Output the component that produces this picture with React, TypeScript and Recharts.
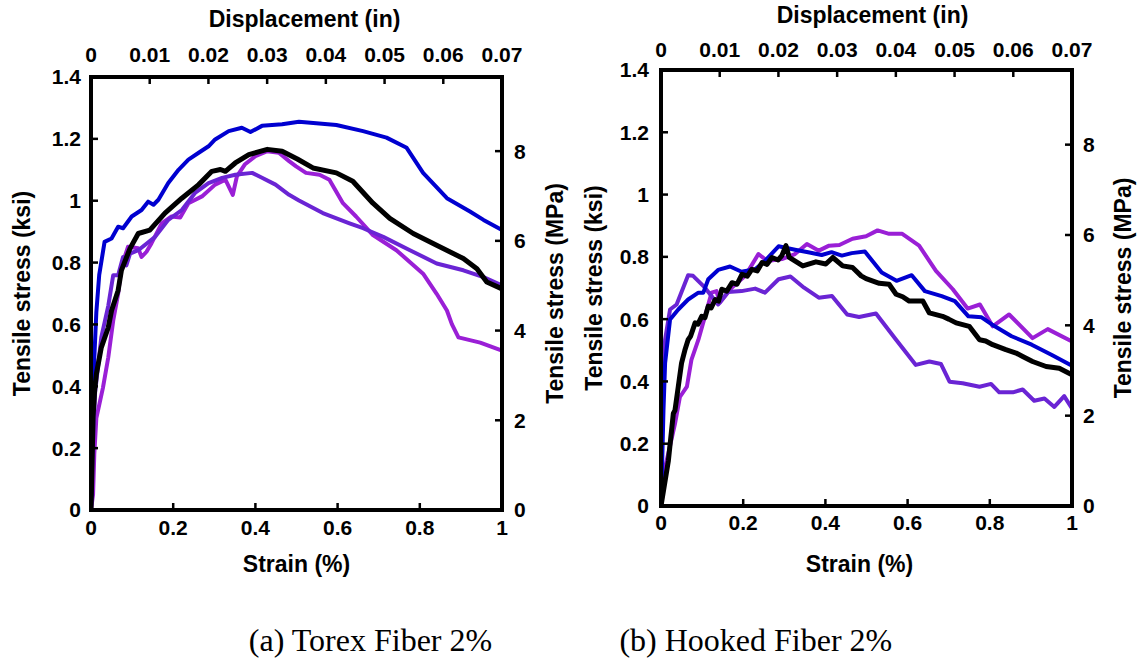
import { LineChart, Line, XAxis, YAxis } from 'recharts'

// tick values
const strainTicks = [0, 0.2, 0.4, 0.6, 0.8, 1]
const dispTicks = [0, 0.01, 0.02, 0.03, 0.04, 0.05, 0.06, 0.07]
const ksiTicks = [0, 0.2, 0.4, 0.6, 0.8, 1, 1.2, 1.4]
const mpaTicks = [0, 2, 4, 6, 8]
const MPA_MAX = 1.4 * 6.89476

// (a) Torex fiber 2% : [strain %, stress ksi]
const torexBlue: [number, number][] = [
  [0, 0], [0.003, 0.2], [0.008, 0.49], [0.013, 0.64], [0.02, 0.76], [0.033, 0.867], [0.05, 0.878],
  [0.066, 0.916], [0.078, 0.911], [0.099, 0.949], [0.123, 0.97], [0.139, 0.997], [0.152, 0.987],
  [0.164, 1.003], [0.188, 1.057], [0.213, 1.1], [0.237, 1.133], [0.262, 1.155], [0.286, 1.176],
  [0.302, 1.198], [0.335, 1.225], [0.367, 1.236], [0.388, 1.222], [0.416, 1.242], [0.465, 1.247],
  [0.506, 1.255], [0.597, 1.245], [0.662, 1.225], [0.719, 1.204], [0.768, 1.171], [0.808, 1.09],
  [0.866, 1.008], [0.922, 0.965], [0.955, 0.938], [1.0, 0.905],
]
const torexBlack: [number, number][] = [
  [0, 0], [0.002, 0.12], [0.005, 0.3], [0.009, 0.39], [0.013, 0.439], [0.025, 0.525], [0.042, 0.59],
  [0.05, 0.645], [0.066, 0.71], [0.074, 0.775], [0.095, 0.846], [0.115, 0.894], [0.143, 0.905],
  [0.18, 0.96], [0.221, 1.008], [0.262, 1.052], [0.294, 1.095], [0.315, 1.101], [0.327, 1.095],
  [0.351, 1.122], [0.384, 1.149], [0.429, 1.166], [0.465, 1.16], [0.502, 1.135], [0.54, 1.106],
  [0.597, 1.09], [0.637, 1.063], [0.686, 0.992], [0.727, 0.943], [0.784, 0.894], [0.841, 0.856],
  [0.906, 0.813], [0.939, 0.78], [0.963, 0.737], [1.0, 0.715],
]
const torexMagenta: [number, number][] = [
  [0, 0], [0.005, 0.05], [0.008, 0.18], [0.013, 0.297], [0.029, 0.395], [0.042, 0.493], [0.054, 0.612],
  [0.066, 0.699], [0.074, 0.786], [0.09, 0.851], [0.115, 0.846], [0.123, 0.818], [0.135, 0.835],
  [0.147, 0.862], [0.172, 0.927], [0.196, 0.949], [0.217, 0.946], [0.237, 0.992], [0.27, 1.014],
  [0.302, 1.052], [0.327, 1.068], [0.345, 1.019], [0.355, 1.079], [0.374, 1.117], [0.4, 1.144],
  [0.429, 1.16], [0.457, 1.155], [0.482, 1.128], [0.499, 1.111], [0.523, 1.09], [0.556, 1.084],
  [0.58, 1.068], [0.613, 0.992], [0.645, 0.949], [0.686, 0.889], [0.743, 0.84], [0.808, 0.764],
  [0.841, 0.699], [0.866, 0.645], [0.878, 0.601], [0.894, 0.558], [0.947, 0.541], [1.0, 0.515],
]
const torexViolet: [number, number][] = [
  [0, 0], [0.004, 0.2], [0.01, 0.38], [0.025, 0.558], [0.042, 0.66], [0.054, 0.759], [0.066, 0.759],
  [0.078, 0.818], [0.086, 0.791], [0.095, 0.829], [0.115, 0.84], [0.156, 0.883], [0.188, 0.938],
  [0.221, 0.97], [0.253, 1.025], [0.286, 1.057], [0.319, 1.074], [0.351, 1.084], [0.392, 1.09],
  [0.416, 1.074], [0.449, 1.052], [0.482, 1.019], [0.506, 1.001], [0.564, 0.96], [0.629, 0.927],
  [0.662, 0.911], [0.711, 0.883], [0.776, 0.84], [0.841, 0.797], [0.906, 0.775], [0.955, 0.753],
  [1.0, 0.726],
]

// (b) Hooked fiber 2%
const hookedBlue: [number, number][] = [
  [0, 0], [0.003, 0.15], [0.006, 0.307], [0.01, 0.459], [0.022, 0.599], [0.042, 0.631], [0.066, 0.663],
  [0.091, 0.685], [0.103, 0.685], [0.115, 0.728], [0.139, 0.758], [0.168, 0.769], [0.196, 0.752],
  [0.229, 0.76], [0.253, 0.787], [0.286, 0.834], [0.326, 0.823], [0.358, 0.815], [0.391, 0.806],
  [0.415, 0.815], [0.44, 0.804], [0.464, 0.812], [0.496, 0.817], [0.537, 0.75], [0.573, 0.723],
  [0.61, 0.741], [0.642, 0.69], [0.683, 0.674], [0.715, 0.658], [0.748, 0.609], [0.78, 0.606],
  [0.805, 0.583], [0.853, 0.545], [0.902, 0.518], [0.951, 0.485], [1.0, 0.45],
]
const hookedBlack: [number, number][] = [
  [0, 0], [0.018, 0.146], [0.03, 0.297], [0.034, 0.307], [0.042, 0.383], [0.05, 0.459], [0.058, 0.5],
  [0.066, 0.534], [0.072, 0.545], [0.083, 0.588], [0.09, 0.584], [0.099, 0.609], [0.107, 0.605],
  [0.115, 0.642], [0.122, 0.636], [0.132, 0.663], [0.14, 0.658], [0.148, 0.696], [0.16, 0.69],
  [0.173, 0.717], [0.185, 0.712], [0.197, 0.744], [0.21, 0.738], [0.221, 0.76], [0.234, 0.755],
  [0.246, 0.782], [0.258, 0.776], [0.27, 0.798], [0.285, 0.79], [0.294, 0.804], [0.304, 0.836],
  [0.312, 0.798], [0.345, 0.771], [0.377, 0.784], [0.401, 0.777], [0.418, 0.798], [0.442, 0.771],
  [0.466, 0.766], [0.487, 0.739], [0.499, 0.73], [0.531, 0.715], [0.555, 0.712], [0.572, 0.68],
  [0.588, 0.672], [0.604, 0.658], [0.637, 0.658], [0.653, 0.62], [0.685, 0.609], [0.7, 0.6],
  [0.718, 0.588], [0.75, 0.577], [0.775, 0.534], [0.79, 0.53], [0.807, 0.518], [0.839, 0.502],
  [0.864, 0.491], [0.88, 0.48], [0.904, 0.464], [0.937, 0.448], [0.969, 0.442], [1.0, 0.421],
]
const hookedMagenta: [number, number][] = [
  [0, 0], [0.012, 0.135], [0.034, 0.264], [0.046, 0.35], [0.063, 0.383], [0.074, 0.469], [0.091, 0.534],
  [0.107, 0.609], [0.123, 0.685], [0.135, 0.69], [0.143, 0.653], [0.172, 0.701], [0.205, 0.739],
  [0.237, 0.809], [0.258, 0.787], [0.294, 0.793], [0.326, 0.809], [0.355, 0.841], [0.384, 0.82],
  [0.409, 0.836], [0.434, 0.838], [0.466, 0.858], [0.499, 0.866], [0.527, 0.885], [0.555, 0.874],
  [0.587, 0.874], [0.628, 0.836], [0.669, 0.755], [0.71, 0.696], [0.746, 0.634], [0.776, 0.647],
  [0.807, 0.577], [0.847, 0.615], [0.904, 0.539], [0.941, 0.568], [1.0, 0.528],
]
const hookedViolet: [number, number][] = [
  [0, 0], [0.003, 0.3], [0.006, 0.45], [0.01, 0.534], [0.022, 0.631], [0.038, 0.647], [0.066, 0.741],
  [0.078, 0.739], [0.107, 0.701], [0.139, 0.647], [0.163, 0.687], [0.196, 0.69], [0.229, 0.698],
  [0.253, 0.685], [0.286, 0.728], [0.315, 0.737], [0.348, 0.701], [0.384, 0.669], [0.416, 0.674],
  [0.453, 0.615], [0.482, 0.607], [0.523, 0.618], [0.572, 0.534], [0.62, 0.453], [0.653, 0.464],
  [0.681, 0.456], [0.702, 0.399], [0.734, 0.394], [0.775, 0.383], [0.803, 0.392], [0.823, 0.365],
  [0.856, 0.365], [0.88, 0.374], [0.908, 0.338], [0.933, 0.345], [0.957, 0.318], [0.981, 0.353],
  [1.0, 0.313],
]

const BLUE = '#0000d0'
const MAGENTA = '#9a1fd6'
const VIOLET = '#6a24d4'
const BLACK = '#000000'

const SANS = '"Liberation Sans", Arial, Helvetica, sans-serif'
const SERIF = '"Liberation Serif", "Times New Roman", serif'

const tickStyle = { fill: '#000', fontSize: 21, fontWeight: 700, fontFamily: SANS }
const axisLineStyle = { stroke: '#000', strokeWidth: 4, strokeLinecap: 'square' as const }
const tickLineStyle = { stroke: '#000', strokeWidth: 2.5 }

const fmt = (v: number) => String(parseFloat(v.toFixed(3)))
const toPoints = (arr: [number, number][]) => arr.map(([x, y]) => ({ x, y }))

const titleStyle = { fill: '#000', fontSize: 23, fontWeight: 700, fontFamily: SANS }

const xTitle = (text: string, dx: number, dy: number) => (props: any) => {
  const vb = props.viewBox
  return (
    <text x={vb.x + vb.width / 2 + dx} y={vb.y + dy} textAnchor="middle" style={titleStyle}>
      {text}
    </text>
  )
}

const yTitle = (text: string, dx: number) => (props: any) => {
  const vb = props.viewBox
  const cx = vb.x + dx
  const cy = vb.y + vb.height / 2
  return (
    <text
      x={cx}
      y={cy}
      transform={`rotate(-90 ${cx} ${cy})`}
      textAnchor="middle"
      dominantBaseline="central"
      style={titleStyle}
    >
      {text}
    </text>
  )
}

interface Series {
  name: string
  color: string
  width: number
  points: [number, number][]
}

interface PanelProps {
  series: Series[]
  left: number
  topH: number
  bottomH: number
  leftW: number
  rightW: number
  topMargin: number
  bottomMargin: number
  leftMargin: number
  rightMargin: number
  topTitleY: number
  topTitleDx: number
  bottomTitleY: number
  bottomTitleDx: number
  leftTitleX: number
  rightTitleX: number
}

function Panel(p: PanelProps) {
  return (
    <div style={{ position: 'absolute', left: p.left, top: 0 }}>
      <LineChart width={571} height={600} margin={{ top: 0, right: 0, bottom: 0, left: 0 }}>
        <XAxis
          dataKey="x"
          type="number"
          domain={[0, 1]}
          ticks={strainTicks}
          interval={0}
          allowDataOverflow
          height={p.bottomH}
          tickFormatter={fmt}
          tick={tickStyle}
          tickSize={-7}
          tickMargin={p.bottomMargin}
          axisLine={axisLineStyle}
          tickLine={tickLineStyle}
          label={{ content: xTitle('Strain (%)', p.bottomTitleDx, p.bottomTitleY) }}
        />
        <XAxis
          xAxisId="disp"
          orientation="top"
          dataKey="x"
          type="number"
          domain={[0, 0.07]}
          ticks={dispTicks}
          interval={0}
          allowDataOverflow
          height={p.topH}
          tickFormatter={fmt}
          tick={tickStyle}
          tickSize={-7}
          tickMargin={p.topMargin}
          axisLine={axisLineStyle}
          tickLine={tickLineStyle}
          label={{ content: xTitle('Displacement (in)', p.topTitleDx, p.topTitleY) }}
        />
        <YAxis
          type="number"
          domain={[0, 1.4]}
          ticks={ksiTicks}
          interval={0}
          allowDataOverflow
          width={p.leftW}
          tickFormatter={fmt}
          tick={tickStyle}
          tickSize={-7}
          tickMargin={p.leftMargin}
          axisLine={axisLineStyle}
          tickLine={tickLineStyle}
          label={{ content: yTitle('Tensile stress (ksi)', p.leftTitleX) }}
        />
        <YAxis
          yAxisId="mpa"
          orientation="right"
          type="number"
          domain={[0, MPA_MAX]}
          ticks={mpaTicks}
          interval={0}
          allowDataOverflow
          width={p.rightW}
          tickFormatter={fmt}
          tick={tickStyle}
          tickSize={-7}
          tickMargin={p.rightMargin}
          axisLine={axisLineStyle}
          tickLine={tickLineStyle}
          label={{ content: yTitle('Tensile stress (MPa)', p.rightTitleX) }}
        />
        {p.series.map((s) => (
          <Line
            key={s.name}
            data={toPoints(s.points)}
            dataKey="y"
            name={s.name}
            type="linear"
            stroke={s.color}
            strokeWidth={s.width}
            strokeLinejoin="round"
            dot={false}
            activeDot={false}
            isAnimationActive={false}
          />
        ))}
      </LineChart>
    </div>
  )
}

const torexSeries: Series[] = [
  { name: 'magenta', color: MAGENTA, width: 4, points: torexMagenta },
  { name: 'violet', color: VIOLET, width: 4, points: torexViolet },
  { name: 'blue', color: BLUE, width: 4, points: torexBlue },
  { name: 'black', color: BLACK, width: 5, points: torexBlack },
]

const hookedSeries: Series[] = [
  { name: 'magenta', color: MAGENTA, width: 4, points: hookedMagenta },
  { name: 'violet', color: VIOLET, width: 4, points: hookedViolet },
  { name: 'blue', color: BLUE, width: 4, points: hookedBlue },
  { name: 'black', color: BLACK, width: 5, points: hookedBlack },
]

export default function App() {
  return (
    <div style={{ position: 'absolute', left: 0, top: 0, width: 1142, height: 661, background: '#fff' }}>
      <Panel
        series={torexSeries}
        left={0}
        topH={77}
        bottomH={90}
        leftW={91}
        rightW={69}
        topMargin={22}
        bottomMargin={17}
        leftMargin={17}
        rightMargin={19}
        topTitleY={27}
        topTitleDx={8}
        bottomTitleY={61.5}
        bottomTitleDx={0}
        leftTitleX={22}
        rightTitleX={52.5}
      />
      <Panel
        series={hookedSeries}
        left={571}
        topH={70}
        bottomH={94}
        leftW={90}
        rightW={70}
        topMargin={20}
        bottomMargin={16}
        leftMargin={19}
        rightMargin={18}
        topTitleY={22.5}
        topTitleDx={6}
        bottomTitleY={65.5}
        bottomTitleDx={-7}
        leftTitleX={22.8}
        rightTitleX={50.7}
      />
      <svg width={1142} height={661} style={{ position: 'absolute', left: 0, top: 0, pointerEvents: 'none' }}>
        <text x={370.5} y={650.5} textAnchor="middle" fontFamily={SERIF} fontSize={32} fill="#000">
          (a) Torex Fiber 2%
        </text>
        <text x={755.8} y={650.5} textAnchor="middle" fontFamily={SERIF} fontSize={32} fill="#000">
          (b) Hooked Fiber 2%
        </text>
      </svg>
    </div>
  )
}
